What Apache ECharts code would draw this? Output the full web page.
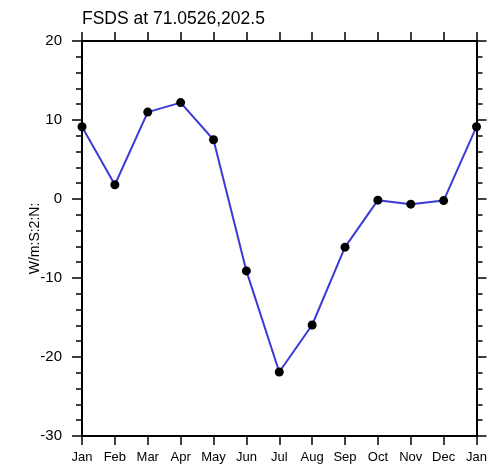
<!DOCTYPE html>
<html>
<head>
<meta charset="utf-8">
<script src="https://cdn.jsdelivr.net/npm/echarts@6/dist/echarts.min.js"></script>
<style>
  html, body { margin: 0; padding: 0; background: #fff; }
  #chart { width: 490px; height: 469px; }
</style>
</head>
<body>
<div id="chart"></div>
<script>
// Monthly cycle (Jan repeated at the end to close the year)
const months = ['Jan', 'Feb', 'Mar', 'Apr', 'May', 'Jun', 'Jul', 'Aug', 'Sep', 'Oct', 'Nov', 'Dec', 'Jan'];
const fsds = [9.15, 1.8, 11.0, 12.2, 7.5, -9.1, -21.9, -15.95, -6.1, -0.15, -0.65, -0.2, 9.15];
const yTicks = { min: -30, max: 20, step: 10 };

const FONT = '"Liberation Sans", Arial, Helvetica, sans-serif';
const axisStroke = { color: '#000', width: 2 };
const tickStroke = { color: '#000', width: 1.5 };

const chart = echarts.init(document.getElementById('chart'), null, { renderer: 'canvas' });

chart.setOption({
  animation: false,
  backgroundColor: '#fff',
  title: {
    text: 'FSDS at 71.0526,202.5',
    left: 77,
    top: 5,
    textStyle: { fontFamily: FONT, fontSize: 17.5, fontWeight: 'normal', color: '#000' }
  },
  grid: { left: 82, right: 11, top: 41, bottom: 33, containLabel: false },
  xAxis: [
    {
      type: 'category',
      data: months,
      boundaryGap: false,
      position: 'bottom',
      axisLine: { onZero: false, lineStyle: axisStroke },
      axisTick: { show: true, alignWithLabel: true, length: 9, inside: false, lineStyle: tickStroke, interval: 0 },
      axisLabel: { fontFamily: FONT, fontSize: 13, color: '#000', margin: 15, interval: 0 },
      splitLine: { show: false }
    },
    {
      type: 'category',
      data: months,
      boundaryGap: false,
      position: 'top',
      axisLine: { show: true, onZero: false, lineStyle: axisStroke },
      axisTick: { show: true, length: 9, inside: false, lineStyle: tickStroke, interval: 0 },
      axisLabel: { show: false },
      splitLine: { show: false }
    }
  ],
  yAxis: [
    {
      type: 'value',
      min: yTicks.min,
      max: yTicks.max,
      interval: yTicks.step,
      position: 'left',
      name: 'W/m:S:2:N:',
      nameLocation: 'middle',
      nameGap: 40,
      nameRotate: 90,
      nameMoveOverlap: false,
      nameTextStyle: { fontFamily: FONT, fontSize: 14, color: '#000' },
      axisLine: { show: true, onZero: false, lineStyle: axisStroke },
      axisTick: { show: true, length: 10, lineStyle: tickStroke },
      minorTick: { show: true, splitNumber: 5, length: 6, lineStyle: tickStroke },
      axisLabel: { fontFamily: FONT, fontSize: 15, color: '#000', margin: 20 },
      splitLine: { show: false }
    },
    {
      type: 'value',
      min: yTicks.min,
      max: yTicks.max,
      interval: yTicks.step,
      position: 'right',
      axisLine: { show: true, onZero: false, lineStyle: axisStroke },
      axisTick: { show: true, length: 10, lineStyle: tickStroke },
      minorTick: { show: true, splitNumber: 5, length: 6, lineStyle: tickStroke },
      axisLabel: { show: false },
      splitLine: { show: false }
    }
  ],
  series: [
    {
      type: 'line',
      data: fsds,
      xAxisIndex: 0,
      yAxisIndex: 0,
      symbol: 'circle',
      symbolSize: 9,
      showAllSymbol: true,
      lineStyle: { color: '#3a3ad6', width: 2 },
      itemStyle: { color: '#000', borderWidth: 0 },
      z: 3
    }
  ]
});
</script>
</body>
</html>
